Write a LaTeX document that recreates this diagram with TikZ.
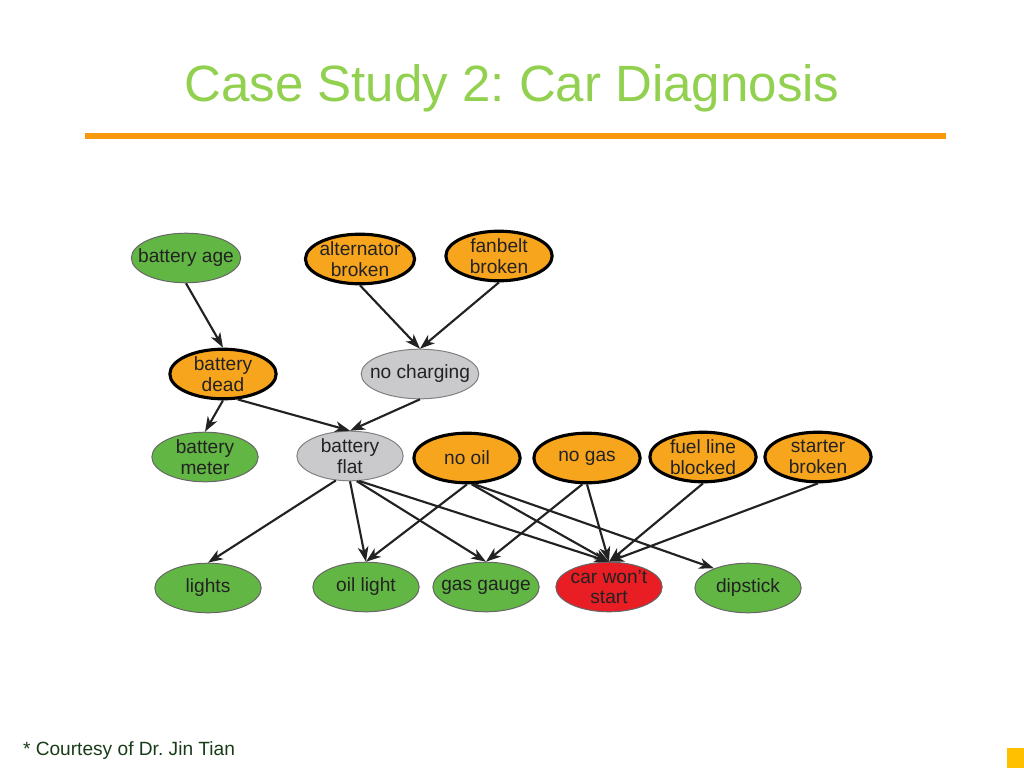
\documentclass[tikz,border=0pt]{standalone}
\usepackage{fontspec}
\setmainfont{Liberation Sans}
\usepackage{xcolor}
\usepackage{tikz}
\usetikzlibrary{shapes.geometric,arrows.meta}
\frenchspacing

\definecolor{titlegreen}{RGB}{146,208,80}
\definecolor{rulecolor}{RGB}{250,152,12}
\definecolor{footgreen}{RGB}{24,60,24}
\definecolor{cornergold}{RGB}{255,192,0}
\definecolor{obsgreen}{RGB}{98,182,68}
\definecolor{causeorange}{RGB}{248,165,30}
\definecolor{hidgray}{RGB}{202,202,204}
\definecolor{queryred}{RGB}{232,30,36}
\definecolor{nodetext}{RGB}{34,34,34}
\definecolor{arrowgray}{RGB}{34,34,34}

\begin{document}
\begin{tikzpicture}[
    x=0.0248cm, y=-0.0248cm,
    var/.style={ellipse, draw, minimum width=75pt, minimum height=35pt, inner xsep=-6.5pt, inner ysep=-1.2pt, align=center, text=nodetext, font=\fontsize{13.5}{14.5}\selectfont},
    obs/.style={var, fill=obsgreen, draw=black!60, line width=0.7pt},
    cause/.style={var, fill=causeorange, draw=black, line width=2.2pt},
    hidden/.style={var, fill=hidgray, draw=black!50, line width=0.7pt},
    query/.style={var, fill=queryred, draw=black!60, line width=0.7pt},
    arr/.style={-{Stealth[length=10.5pt,width=7.5pt,inset=3pt]}, line width=1.5pt, draw=arrowgray}
]
    \useasboundingbox (0,0) rectangle (1024,768);

    % Title
    \node[anchor=base, text=titlegreen, font=\fontsize{36}{40}\selectfont] (title) at (512,102) {Case Study 2: Car Diagnosis};
    \draw[rulecolor, line width=3.6pt] (85,136) -- (946,136);

    % Top causes
    \node[obs] (batage) at (186,258) {battery age};
    \node[cause, minimum width=77pt] (altbrk) at (360,259) {alternator\\broken};
    \node[cause] (fanbrk) at (499,256) {fanbelt\\broken};

    % Middle
    \node[cause] (batdead) at (223,374) {battery\\dead};
    \node[hidden, minimum width=83pt] (nocharge) at (420,374) {no charging};

    % Third row
    \node[obs] (batmeter) at (205,457) {battery\\meter};
    \node[hidden] (batflat) at (350,456) {battery\\flat};
    \node[cause] (nooil) at (467,458) {no oil};
    \node[cause] (nogas) at (587,458) {no gas};
    \node[cause] (fuelblk) at (703,457) {fuel line\\blocked};
    \node[cause] (startbrk) at (818,457) {starter\\broken};

    % Bottom row
    \node[obs] (lights) at (208,588) {lights};
    \node[obs] (oillight) at (366,587) {oil light};
    \node[obs] (gasgauge) at (486,587) {gas gauge};
    \node[query] (nostart) at (609,587) {car won't\\start};
    \node[obs] (dipstick) at (748,588) {dipstick};

    % Edges
    \draw[arr] (batage.south) -- (batdead.north);
    \draw[arr] (altbrk.south) -- (nocharge.north);
    \draw[arr] (fanbrk.south) -- (nocharge.north);
    \draw[arr] (batdead.south) -- (batmeter.north);
    \draw[arr] (batdead.-60) -- (batflat.north);
    \draw[arr] (nocharge.south) -- (batflat.north);
    \draw[arr] (batflat.-120) -- (lights.north);
    \draw[arr] (batflat.south) -- (oillight.north);
    \draw[arr] (batflat.-75) -- (gasgauge.north);
    \draw[arr] (batflat.-70) -- (nostart.north);
    \draw[arr] (nooil.south) -- (oillight.north);
    \draw[arr] (nooil.-80) -- (nostart.north);
    \draw[arr] (nooil.-75) -- (dipstick.150);
    \draw[arr] (nogas.-100) -- (gasgauge.north);
    \draw[arr] (nogas.-90) -- (nostart.north);
    \draw[arr] (fuelblk.south) -- (nostart.north);
    \draw[arr] (startbrk.south) -- (nostart.north);

    % Footer
    \node[anchor=base west, text=footgreen, font=\fontsize{13.5}{15}\selectfont] (credit) at (18,755) {* Courtesy of Dr. Jin Tian};
    \fill[cornergold] (1007,748) rectangle (1024,768);
\end{tikzpicture}
\end{document}
